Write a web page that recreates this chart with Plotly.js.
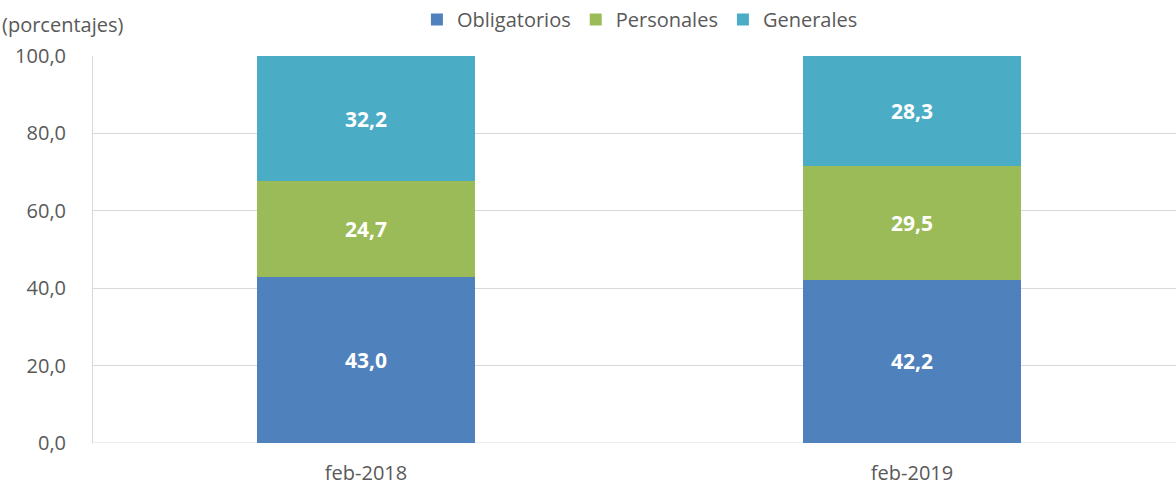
<!DOCTYPE html>
<html>
<head>
<meta charset="utf-8">
<script src="https://cdn.plot.ly/plotly-3.0.1.min.js"></script>
<style>html,body{margin:0;padding:0;background:#fff;}#chart{width:1176px;height:491px;}</style>
</head>
<body>
<div id="chart"></div>
<script>
const categories = ['feb-2018', 'feb-2019'];
const obligatorios = [43.0, 42.2];
const personales = [24.7, 29.5];
const generales = [32.2, 28.3];
const seriesNames = ['Obligatorios', 'Personales', 'Generales'];
const yTicks = [0, 20, 40, 60, 80, 100];

const colors = ['#4f81bd', '#9bbb59', '#4bacc6'];
const fontFam = '"Open Sans", Lato, sans-serif';

function mk(name, vals, color) {
  return {
    type: 'bar', name: name, x: categories, y: vals,
    width: 0.4,
    marker: {color: color},
    texttemplate: '%{y:.1f}',
    textposition: 'inside',
    insidetextanchor: 'middle',
    textangle: 0,
    textfont: {color: '#ffffff', size: 21, family: fontFam, weight: 'bold'},
    hoverinfo: 'skip'
  };
}

const data = [
  mk(seriesNames[0], obligatorios, colors[0]),
  mk(seriesNames[1], personales, colors[1]),
  mk(seriesNames[2], generales, colors[2])
];

const layout = {
  width: 1176, height: 491,
  margin: {l: 93, r: 0, t: 54, b: 48},
  barmode: 'stack',
  separators: ',.',
  paper_bgcolor: '#ffffff', plot_bgcolor: '#ffffff',
  font: {family: fontFam, color: '#595959', size: 20},
  showlegend: true,
  legend: {orientation: 'h', x: 0.505, xanchor: 'center', y: 1.095, yanchor: 'middle',
           font: {size: 20, color: '#595959'}, traceorder: 'normal', itemwidth: 30},
  xaxis: {
    range: [-0.5, 1.4835], showgrid: false, zeroline: false,
    showline: false, ticks: '', tickfont: {size: 20, color: '#595959'},
    ticklabelstandoff: 16
  },
  yaxis: {
    range: [0, 100], tickvals: yTicks, tickformat: '.1f',
    showgrid: true, gridcolor: '#d9d9d9', gridwidth: 1,
    zeroline: false, showline: true, linecolor: '#d9d9d9', linewidth: 1,
    ticks: '', ticklabelstandoff: 22, tickfont: {size: 20, color: '#595959'}
  },
  shapes: [
    {type: 'line', xref: 'paper', yref: 'y', x0: 0, x1: 1, y0: 0, y1: 0, line: {color: '#d9d9d9', width: 1}, layer: 'below'}
  ],
  annotations: [
    {xref: 'paper', yref: 'paper', x: -0.0859, y: 1.0, xanchor: 'left', yanchor: 'bottom',
     yshift: 16, text: '(porcentajes)', showarrow: false, font: {size: 20, color: '#595959'}}
  ]
};

Plotly.newPlot('chart', data, layout, {displayModeBar: false, staticPlot: true});
</script>
</body>
</html>
